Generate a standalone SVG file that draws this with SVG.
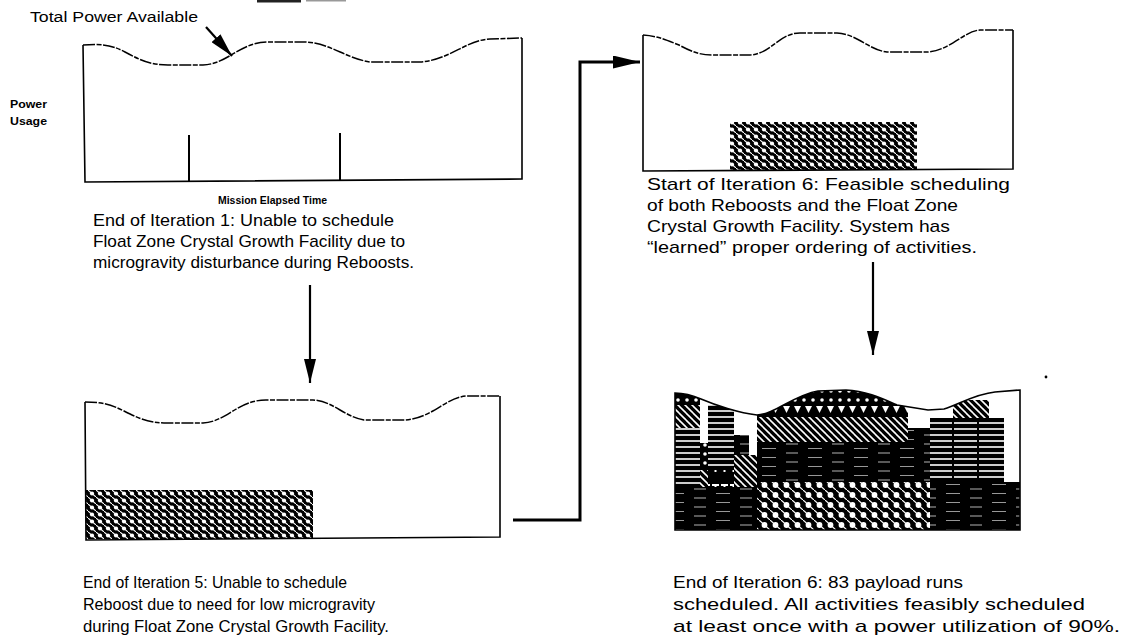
<svg xmlns="http://www.w3.org/2000/svg" width="1122" height="643" viewBox="0 0 1122 643">
<style>
  .frame{fill:none;stroke:#000;stroke-width:1.6;stroke-linejoin:miter}
  .wave{fill:none;stroke:#000;stroke-width:1.5;stroke-dasharray:12 1.5 5 1.5}
  .tick{stroke:#000;stroke-width:2}
  .conn{fill:none;stroke:#000;stroke-width:2.2}
  .connthick{fill:none;stroke:#000;stroke-width:3}
  .cap{font-family:"Liberation Sans",Arial,sans-serif;font-size:17px;fill:#000}
  .capn{font-family:"Liberation Sans Narrow","Liberation Sans",Arial,sans-serif;font-size:17px;fill:#000}
  .lbl{font-family:"Liberation Sans",Arial,sans-serif;font-size:14px;fill:#000}
  .bold{font-family:"Liberation Sans",Arial,sans-serif;font-size:10.5px;font-weight:bold;fill:#000}
</style>
<defs>
  <pattern id="chk" width="8" height="7" patternUnits="userSpaceOnUse">
    <rect width="8" height="7" fill="#000"/>
    <line x1="-1" y1="-0.875" x2="9" y2="7.875" stroke="#fff" stroke-width="1.1"/>
    <circle cx="4" cy="3.5" r="2.1" fill="#fff"/>
  </pattern>
  <pattern id="bigdots" width="11" height="10" patternUnits="userSpaceOnUse">
    <rect width="11" height="10" fill="#000"/>
    <line x1="-1" y1="-0.9" x2="12" y2="10.9" stroke="#fff" stroke-width="1.2"/>
    <circle cx="5.5" cy="5" r="2.9" fill="#fff"/>
  </pattern>
  <pattern id="hstripe" width="6" height="6" patternUnits="userSpaceOnUse">
    <rect width="6" height="6" fill="#000"/>
    <rect x="0" y="2.2" width="6" height="1.6" fill="#fff"/>
  </pattern>
  <pattern id="diag" width="7" height="7" patternUnits="userSpaceOnUse">
    <rect width="7" height="7" fill="#000"/>
    <line x1="-1" y1="-1" x2="8" y2="8" stroke="#fff" stroke-width="1.6"/>
    <line x1="-4.5" y1="2.5" x2="0.5" y2="7.5" stroke="#fff" stroke-width="1.6"/>
    <line x1="2.5" y1="-4.5" x2="7.5" y2="0.5" stroke="#fff" stroke-width="1.6"/>
  </pattern>
  <pattern id="dark" width="46" height="9" patternUnits="userSpaceOnUse">
    <rect width="46" height="9" fill="#000"/>
    <line x1="4" y1="3" x2="16" y2="3" stroke="#fff" stroke-width="0.7"/>
    <line x1="26" y1="7.5" x2="40" y2="7.5" stroke="#fff" stroke-width="0.6"/>
  </pattern>
  <pattern id="smalldots" width="9" height="9" patternUnits="userSpaceOnUse">
    <rect width="9" height="9" fill="#000"/>
    <circle cx="3" cy="4" r="1.8" fill="#fff"/>
  </pattern>
  <pattern id="tri" width="11" height="13" patternUnits="userSpaceOnUse">
    <rect width="11" height="13" fill="#000"/>
    <path d="M2,3 L9,3 L5.5,10 Z" fill="#fff"/>
  </pattern>
  <pattern id="tee" width="9" height="20" patternUnits="userSpaceOnUse">
    <rect width="9" height="20" fill="#000"/>
    <rect x="1" y="4" width="7" height="2" fill="#fff"/>
    <rect x="3.5" y="6" width="2" height="6" fill="#fff"/>
  </pattern>
  <marker id="ah" markerUnits="userSpaceOnUse" markerWidth="24" markerHeight="12" refX="24" refY="6" orient="auto">
    <path d="M0,0 L24,6 L0,12 Z" fill="#000"/>
  </marker>
  <marker id="ahc" markerUnits="userSpaceOnUse" markerWidth="27" markerHeight="13" refX="27" refY="6.5" orient="auto">
    <path d="M0,0 L27,6.5 L0,13 Z" fill="#000"/>
  </marker>
  <clipPath id="p4clip">
    <path d="M675,393 C684,393 692,395 701,399 C715,405 739,413 757,415 C775,414 794,395 818,391 L846,390 C866,391 881,398 897,405 L928,410 L944,409 C960,404 975,394 995,392 L1020,390 L1020,530 L675,530 Z"/>
  </clipPath>
</defs>

<rect width="1122" height="643" fill="#fff"/>
<rect x="257" y="0" width="44" height="2.5" fill="#222"/>
<rect x="306" y="0" width="40" height="1.5" fill="#999"/>

<g id="labels">
  <text class="lbl" x="30" y="22" textLength="168" lengthAdjust="spacingAndGlyphs">Total Power Available</text>
  <text class="bold" x="10" y="108" textLength="37" lengthAdjust="spacingAndGlyphs">Power</text>
  <text class="bold" x="10" y="125" textLength="37" lengthAdjust="spacingAndGlyphs">Usage</text>
</g>

<g id="panel1">
  <path class="wave" d="M83,45 C100,44 110,44 125,52 C140,60 150,65 168,65 L203,65 C228,64 240,42 268,42 L305,42 C330,43 345,58 370,62 L420,62 C450,60 466,40 490,39 L522,38"/>
  <path class="frame" d="M522,38 L522,179 L85,182 L83,45"/>
  <line class="tick" x1="189" y1="135" x2="189" y2="181"/>
  <line class="tick" x1="340" y1="133" x2="340" y2="180"/>
  <text class="bold" x="218" y="204" textLength="109" lengthAdjust="spacingAndGlyphs">Mission Elapsed Time</text>
  <text class="cap" x="93" y="226" textLength="301" lengthAdjust="spacingAndGlyphs">End of Iteration 1:  Unable to schedule</text>
  <text class="cap" x="93" y="247" textLength="312" lengthAdjust="spacingAndGlyphs">Float Zone Crystal Growth Facility due to</text>
  <text class="cap" x="93" y="268" textLength="321" lengthAdjust="spacingAndGlyphs">microgravity disturbance during Reboosts.</text>
</g>

<g id="panel2">
  <rect x="86" y="490" width="227" height="49" fill="url(#chk)"/>
  <path class="wave" d="M85,402 C101,402 110,404 124,411 C138,418 148,423 167,423 L203,423 C226,422 238,400 266,400 L313,400 C333,401 343,416 364,420 L405,420 C433,418 446,397 467,396 L500,396"/>
  <path class="frame" d="M500,396 L500,537 L86,540 L85,402"/>
  <text class="capn" x="83" y="588" textLength="264" lengthAdjust="spacingAndGlyphs">End of Iteration 5:  Unable to schedule</text>
  <text class="capn" x="83" y="610" textLength="292" lengthAdjust="spacingAndGlyphs">Reboost due to need for low microgravity</text>
  <text class="capn" x="83" y="632" textLength="306" lengthAdjust="spacingAndGlyphs">during Float Zone Crystal Growth Facility.</text>
</g>

<g id="panel3">
  <rect x="730" y="122" width="187" height="48" fill="url(#chk)"/>
  <path class="wave" d="M643,35 C658,36 666,40 679,45 C692,52 700,55 713,55 L750,55 C771,54 779,33 800,33 L837,33 C857,34 869,50 887,52 L928,52 C951,50 964,31 980,30 L1013,30"/>
  <path class="frame" d="M1013,30 L1013,169 L643,171 L643,35"/>
  <text class="cap" x="647" y="190" textLength="363" lengthAdjust="spacingAndGlyphs">Start of Iteration 6:  Feasible scheduling</text>
  <text class="cap" x="647" y="211" textLength="311" lengthAdjust="spacingAndGlyphs">of both Reboosts and the Float Zone</text>
  <text class="cap" x="647" y="232" textLength="303" lengthAdjust="spacingAndGlyphs">Crystal Growth Facility.  System has</text>
  <text class="cap" x="647" y="253" textLength="330" lengthAdjust="spacingAndGlyphs">“learned” proper ordering of activities.</text>
</g>

<g id="panel4">
  <g clip-path="url(#p4clip)">
    <rect x="675" y="385" width="25" height="20" fill="url(#smalldots)"/>
    <rect x="675" y="405" width="25" height="23" fill="url(#diag)"/>
    <rect x="675" y="428" width="25" height="59" fill="url(#hstripe)"/>
    <rect x="700" y="443" width="8" height="27" fill="url(#smalldots)"/>
    <rect x="700" y="470" width="8" height="20" fill="url(#diag)"/>
    <rect x="708" y="405" width="26" height="65" fill="url(#hstripe)"/>
    <rect x="708" y="470" width="26" height="20" fill="url(#tee)"/>
    <rect x="734" y="435" width="15" height="20" fill="url(#dark)"/>
    <rect x="734" y="455" width="23" height="35" fill="url(#diag)"/>
    <rect x="675" y="487" width="82" height="43" fill="url(#dark)"/>
    <rect x="757" y="385" width="149" height="18" fill="url(#smalldots)"/>
    <rect x="757" y="403" width="151" height="14" fill="url(#tri)"/>
    <rect x="757" y="417" width="151" height="25" fill="url(#diag)"/>
    <rect x="908" y="428" width="22" height="14" fill="url(#dark)"/>
    <rect x="757" y="442" width="173" height="40" fill="url(#dark)"/>
    <rect x="757" y="482" width="173" height="48" fill="url(#bigdots)"/>
    <rect x="930" y="418" width="74" height="64" fill="url(#hstripe)"/>
    <line x1="953" y1="418" x2="953" y2="482" stroke="#000" stroke-width="2"/>
    <line x1="978" y1="418" x2="978" y2="482" stroke="#000" stroke-width="2"/>
    <rect x="953" y="400" width="36" height="18" fill="url(#diag)"/>
    <rect x="930" y="482" width="90" height="48" fill="url(#dark)"/>
  </g>
  <path class="frame" d="M675,393 C684,393 692,395 701,399 C715,405 739,413 757,415 C775,414 794,395 818,391 L846,390 C866,391 881,398 897,405 L928,410 L944,409 C960,404 975,394 995,392 L1020,390 L1020,530 L675,530 Z"/>
  <circle cx="1046" cy="377" r="1.4" fill="#000"/>
  <text class="capn" x="673" y="588" textLength="290" lengthAdjust="spacingAndGlyphs">End of Iteration 6:  83 payload runs</text>
  <text class="capn" x="673" y="610" textLength="412" lengthAdjust="spacingAndGlyphs">scheduled.  All activities feasibly scheduled</text>
  <text class="capn" x="673" y="632" textLength="447" lengthAdjust="spacingAndGlyphs">at least once with a power utilization of 90%.</text>
</g>

<g id="connectors">
  <line class="conn" x1="206" y1="27" x2="232" y2="56" marker-end="url(#ah)"/>
  <line class="conn" x1="310" y1="285" x2="310" y2="383" marker-end="url(#ah)"/>
  <line class="conn" x1="873" y1="262" x2="873" y2="355" marker-end="url(#ah)"/>
  <path class="connthick" d="M513,520 L580,520 L580,62 L640,62" marker-end="url(#ahc)"/>
</g>
</svg>
